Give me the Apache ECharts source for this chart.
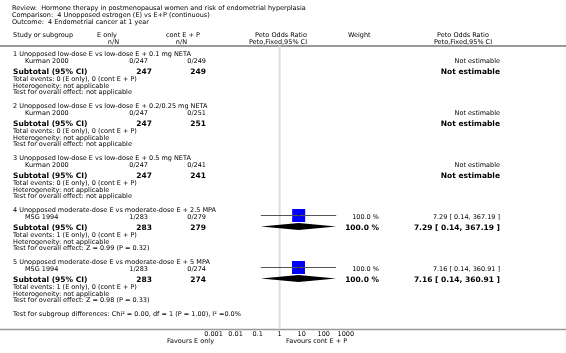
<!DOCTYPE html>
<html>
<head>
<meta charset="utf-8">
<style>
  html, body { margin: 0; padding: 0; background: #fff; }
  #main { width: 566px; height: 353px; }
</style>
<script src="https://cdn.jsdelivr.net/npm/echarts/dist/echarts.min.js"></script>
</head>
<body>
<div id="main"></div>
<script>
// data
var groupNames = [
    '1 Unopposed low-dose E vs low-dose E + 0.1 mg NETA',
    '2 Unopposed low-dose E vs low-dose E + 0.2/0.25 mg NETA',
    '3 Unopposed low-dose E vs low-dose E + 0.5 mg NETA',
    '4 Unopposed moderate-dose E vs moderate-dose E + 2.5 MPA',
    '5 Unopposed moderate-dose E vs moderate-dose E + 5 MPA'
];
var studyNames = ['Kurman 2000', 'Kurman 2000', 'Kurman 2000', 'MSG 1994', 'MSG 1994'];
var eEvents = [0, 0, 0, 1, 1];
var eTotal = [247, 247, 247, 283, 283];
var cEvents = [0, 0, 0, 0, 0];
var cTotal = [249, 251, 241, 279, 274];
var orEst = [null, null, null, 7.29, 7.16];
var orLow = [null, null, null, 0.14, 0.14];
var orHigh = [null, null, null, 367.19, 360.91];
var weights = [null, null, null, 100.0, 100.0];
var overallEffect = ['not applicable', 'not applicable', 'not applicable', 'Z = 0.99 (P = 0.32)', 'Z = 0.98 (P = 0.33)'];
var tickLabels = ['0.001', '0.01', '0.1', '1', '10', '100', '1000'];

var myChart = echarts.init(document.getElementById('main'));

var FONT = 'DejaVu Sans';
var NORMAL = '6.5px ' + FONT;
var BOLD = 'bold 7.5px ' + FONT;

// rows
function rowY(g, k) {
    var off = [0, 7, 18, 25, 32, 38.5];
    return 54 + 52 * g + off[k];
}

var texts = [];
function txt(x, y, s, font, align) {
    texts.push({
        type: 'text', silent: true,
        style: {
            x: x, y: y, text: s, font: font || NORMAL, fill: '#000',
            align: align || 'left', verticalAlign: 'middle',
            textAlign: align || 'left', textVerticalAlign: 'middle'
        }
    });
}
function fmt(v) { return v.toFixed(2); }

txt(12, 8, 'Review:  Hormone therapy in postmenopausal women and risk of endometrial hyperplasia');
txt(12, 15, 'Comparison:  4 Unopposed estrogen (E) vs E+P (continuous)');
txt(12, 22, 'Outcome:  4 Endometrial cancer at 1 year');

txt(13, 35, 'Study or subgroup');
txt(97, 35, 'E only');
txt(119, 42, 'n/N', NORMAL, 'right');
txt(166, 35, 'cont E + P');
txt(187, 42, 'n/N', NORMAL, 'right');
txt(281, 35, 'Peto Odds Ratio', NORMAL, 'center');
txt(278, 42, 'Peto,Fixed,95% CI', NORMAL, 'center');
txt(348, 35, 'Weight');
txt(463, 35, 'Peto Odds Ratio', NORMAL, 'center');
txt(463, 42, 'Peto,Fixed,95% CI', NORMAL, 'center');

var studyData = [], subData = [];
for (var g = 0; g < groupNames.length; g++) {
    txt(13, rowY(g, 0), groupNames[g]);
    txt(25, rowY(g, 1), studyNames[g]);
    txt(148, rowY(g, 1), eEvents[g] + '/' + eTotal[g], NORMAL, 'right');
    txt(206, rowY(g, 1), cEvents[g] + '/' + cTotal[g], NORMAL, 'right');
    txt(13, rowY(g, 2), 'Subtotal (95% CI)', BOLD);
    txt(152, rowY(g, 2), String(eTotal[g]), BOLD, 'right');
    txt(206, rowY(g, 2), String(cTotal[g]), BOLD, 'right');
    txt(13, rowY(g, 3), 'Total events: ' + eEvents[g] + ' (E only), ' + cEvents[g] + ' (cont E + P)');
    txt(13, rowY(g, 4), 'Heterogeneity: not applicable');
    txt(13, rowY(g, 5), 'Test for overall effect: ' + overallEffect[g]);
    if (orEst[g] == null) {
        txt(500, rowY(g, 1), 'Not estimable', NORMAL, 'right');
        txt(500, rowY(g, 2), 'Not estimable', BOLD, 'right');
    } else {
        var ci = fmt(orEst[g]) + ' [ ' + fmt(orLow[g]) + ', ' + fmt(orHigh[g]) + ' ]';
        txt(379, rowY(g, 1), weights[g].toFixed(1) + ' %', NORMAL, 'right');
        txt(379, rowY(g, 2), weights[g].toFixed(1) + ' %', BOLD, 'right');
        txt(500, rowY(g, 1), ci, NORMAL, 'right');
        txt(500, rowY(g, 2), ci, BOLD, 'right');
        studyData.push([orEst[g], orLow[g], orHigh[g], rowY(g, 1) - 1.5, weights[g]]);
        subData.push([orEst[g], orLow[g], orHigh[g], rowY(g, 2) - 1.5]);
    }
}
txt(13, 314, 'Test for subgroup differences: Chi\u00b2 = 0.00, df = 1 (P = 1.00), I\u00b2 =0.0%');
txt(214, 341, 'Favours E only', NORMAL, 'right');
txt(286, 341, 'Favours cont E + P');

var lines = [
    { type: 'line', silent: true, shape: { x1: 0, y1: 46, x2: 566, y2: 46 }, style: { stroke: '#999', lineWidth: 2 } },
    { type: 'line', silent: true, shape: { x1: 0, y1: 329.5, x2: 566, y2: 329.5 }, style: { stroke: '#999', lineWidth: 1.5 } }
];

option = {
    animation: false,
    grid: { left: 213.5, right: 220.2, top: 0, bottom: 24 },
    xAxis: {
        type: 'log',
        logBase: 10,
        min: 0.001,
        max: 1000,
        splitNumber: 6,
        axisLine: { show: false },
        axisTick: { show: true, inside: true, length: 3, lineStyle: { color: '#444' } },
        minorTick: { show: false },
        splitLine: { show: false },
        axisLabel: {
            fontSize: 6.5, fontFamily: FONT, color: '#000', margin: 2,
            formatter: function (v) {
                var i = Math.round(Math.log10(v)) + 3;
                return tickLabels[i] || '';
            }
        }
    },
    yAxis: { type: 'value', min: 0, max: 329, inverse: true, show: false },
    graphic: lines.concat(texts),
    series: [
        {
            // line of no effect
            type: 'line',
            silent: true,
            symbol: 'none',
            data: [[1, 46], [1, 329]],
            lineStyle: { color: '#ddd', width: 2 },
            z: 1
        },
        {
            type: 'custom',
            silent: true,
            data: studyData,
            encode: { x: [0, 1, 2], y: 3 },
            renderItem: function (params, api) {
                var est = api.coord([api.value(0), api.value(3)]);
                var lo = api.coord([api.value(1), api.value(3)]);
                var hi = api.coord([api.value(2), api.value(3)]);
                var s = 13;
                return {
                    type: 'group',
                    children: [
                        { type: 'rect', shape: { x: est[0] - s / 2, y: est[1] - s / 2, width: s, height: s }, style: { fill: '#0000ff' } },
                        { type: 'line', shape: { x1: lo[0], y1: lo[1], x2: hi[0], y2: hi[1] }, style: { stroke: '#555', lineWidth: 1 } },
                        { type: 'line', shape: { x1: est[0], y1: est[1] - 2, x2: est[0], y2: est[1] + 2 }, style: { stroke: '#222', lineWidth: 1 } }
                    ]
                };
            },
            z: 3
        },
        {
            type: 'custom',
            silent: true,
            data: subData,
            encode: { x: [0, 1, 2], y: 3 },
            renderItem: function (params, api) {
                var est = api.coord([api.value(0), api.value(3)]);
                var lo = api.coord([api.value(1), api.value(3)]);
                var hi = api.coord([api.value(2), api.value(3)]);
                var h = 3.5;
                return {
                    type: 'polygon',
                    shape: { points: [[lo[0], lo[1]], [est[0], est[1] - h], [hi[0], hi[1]], [est[0], est[1] + h]] },
                    style: { fill: '#000' }
                };
            },
            z: 3
        }
    ]
};

myChart.setOption(option);
</script>
</body>
</html>
